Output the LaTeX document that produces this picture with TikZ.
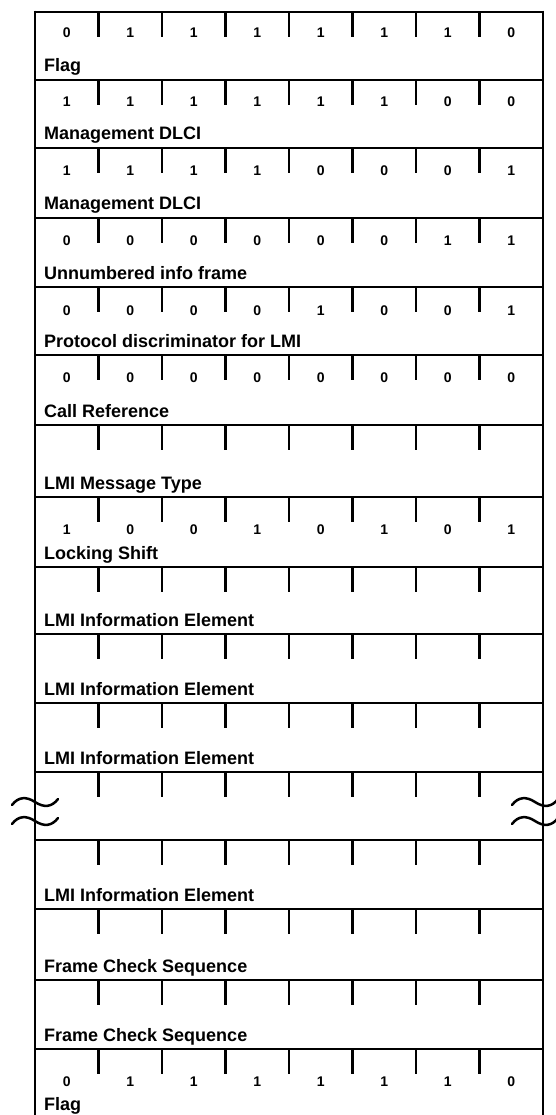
\documentclass[tikz,border=0pt]{standalone}
\usepackage{fontspec}
\setmainfont{Liberation Sans}
\begin{document}
\begin{tikzpicture}[x=1pt,y=-1pt,
  rule/.style={line width=2.5pt},
  bitnum/.style={font=\bfseries\fontsize{14}{16}\selectfont, anchor=base, inner sep=0pt},
  fieldname/.style={font=\bfseries\fontsize{18}{20}\selectfont, anchor=base west, inner sep=0pt},
  breakwave/.style={line width=2.5pt, line cap=round}]
\useasboundingbox (0,0) rectangle (556,1115);
% outer border
\draw[rule] (33.75,12) -- (544.25,12);
\draw[rule] (35,10.75) -- (35,1125);
\draw[rule] (543,10.75) -- (543,1125);
% row separators
\foreach \t in {80,148,218,287,355,425,497,567,634,703,772,840,909,980,1049}
  \draw[rule] (35,\t) -- (543,\t);
% bit ticks
\foreach \t in {12,80,148,218,287,355,425,497,567,634,703,772,840,909,980,1049}
  \foreach \k in {1,...,7}
    \draw[rule] ({35+63.5*\k},\t) -- ++(0,25);
% field names
\foreach \b/\lab/\n in {80/Flag/fa, 148/Management DLCI/fb, 218/Management DLCI/fc,
  287/Unnumbered info frame/fd, 355/Protocol discriminator for LMI/fe,
  425/Call Reference/ff, 497/LMI Message Type/fg, 567/Locking Shift/fh,
  634/LMI Information Element/fi, 703/LMI Information Element/fj,
  772/LMI Information Element/fk, 909/LMI Information Element/fl,
  980/Frame Check Sequence/fm, 1049/Frame Check Sequence/fn,
  1118/Flag/fo}
  \node[fieldname] (\n) at (44,{\b-8}) {\lab};
% bit values
\foreach \t/\bits/\d/\n in {12/{0,1,1,1,1,1,1,0}/26/ba, 80/{1,1,1,1,1,1,0,0}/27/bb,
  148/{1,1,1,1,0,0,0,1}/28/bc, 218/{0,0,0,0,0,0,1,1}/27/bd,
  287/{0,0,0,0,1,0,0,1}/28/be, 355/{0,0,0,0,0,0,0,0}/27/bf,
  497/{1,0,0,1,0,1,0,1}/37/bh, 1049/{0,1,1,1,1,1,1,0}/37/bo}
  {\foreach \v [count=\k] in \bits
    {\node[bitnum] (\n\k) at ({35+63.5*(\k-0.5)},{\t+\d}) {\v};}}
% break marks
\foreach \x in {12,512}
  \foreach \y in {802,821}
    \draw[breakwave] (\x,{\y+3}) .. controls ({\x+6},{\y-5}) and ({\x+14},{\y-6}) .. ({\x+23},\y)
      .. controls ({\x+32},{\y+6}) and ({\x+40},{\y+5}) .. ({\x+46},{\y-3});
\end{tikzpicture}
\end{document}
